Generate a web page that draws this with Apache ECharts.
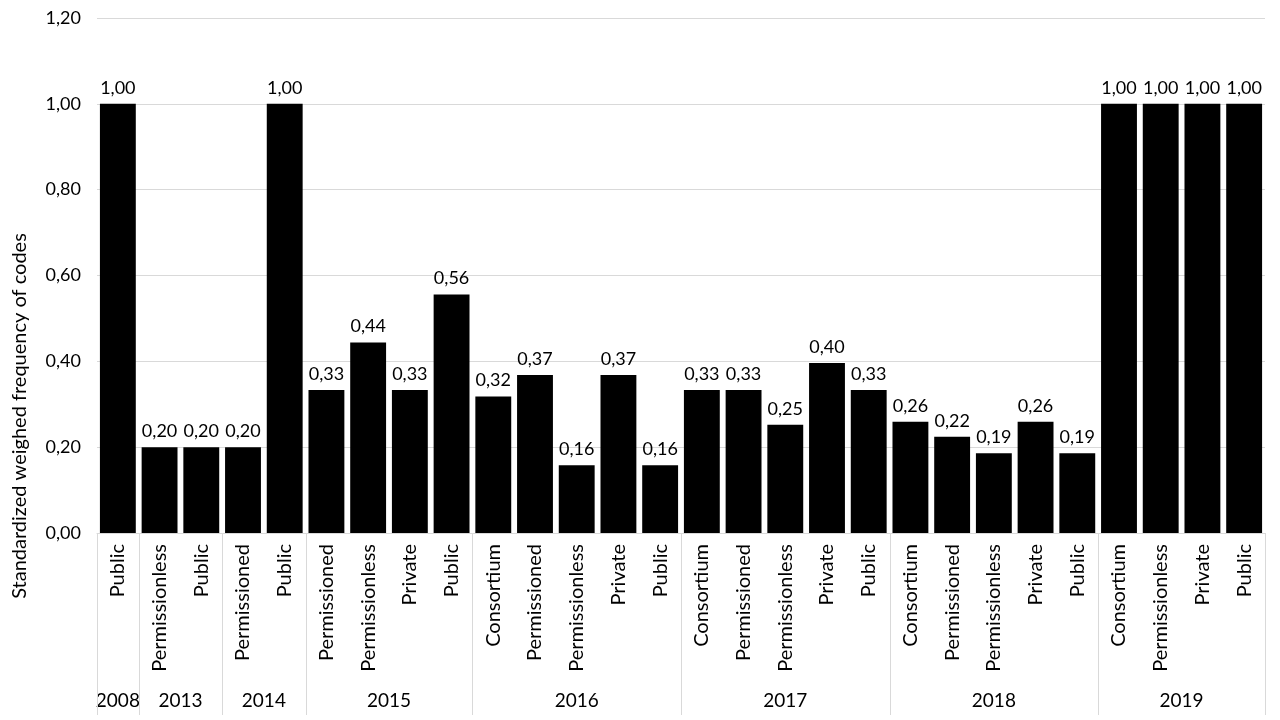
<!DOCTYPE html>
<html>
<head>
<meta charset="utf-8">
<script src="https://cdn.jsdelivr.net/npm/echarts@6/dist/echarts.min.js"></script>
<style>html,body{margin:0;padding:0;background:#fff}#c{width:1280px;height:720px}</style>
</head>
<body>
<div id="c"></div>
<script>
const categories = [
  'Public',
  'Permissionless','Public',
  'Permissioned','Public',
  'Permissioned','Permissionless','Private','Public',
  'Consortium','Permissioned','Permissionless','Private','Public',
  'Consortium','Permissioned','Permissionless','Private','Public',
  'Consortium','Permissioned','Permissionless','Private','Public',
  'Consortium','Permissionless','Private','Public'
];
const years = ['2008','2013','2014','2015','2016','2017','2018','2019'];
const yearCounts = [1,2,2,4,5,5,5,4];
const values = [
  1.00,
  0.20,0.20,
  0.20,1.00,
  0.333,0.444,0.333,0.556,
  0.318,0.368,0.158,0.368,0.158,
  0.333,0.333,0.252,0.396,0.333,
  0.259,0.224,0.186,0.259,0.186,
  1.00,1.00,1.00,1.00
];
const yTitle = 'Standardized weighed frequency of codes';

const FONT = 'Lato';
const fmt = v => v.toFixed(2).replace('.', ',');
const chart = echarts.init(document.getElementById('c'));
chart.setOption({
  animation: false,
  textStyle: {fontFamily: FONT},
  grid: {left: 97, right: 15, top: 18, bottom: 187},
  xAxis: {
    type: 'category',
    data: categories,
    axisLine: {show: true, lineStyle: {color: '#d9d9d9', width: 1}},
    axisTick: {show: false},
    axisLabel: {rotate: 90, interval: 0, margin: 11, fontSize: 20, color: '#000', fontFamily: FONT}
  },
  yAxis: {
    type: 'value', min: 0, max: 1.2, interval: 0.2,
    axisLine: {show: false}, axisTick: {show: false},
    splitLine: {lineStyle: {color: '#d9d9d9', width: 1}},
    axisLabel: {formatter: v => fmt(v), fontSize: 18, color: '#000', margin: 16, fontFamily: FONT}
  },
  series: [{
    type: 'bar',
    data: values,
    barCategoryGap: '14%',
    itemStyle: {color: '#000'},
    label: {show: true, position: 'top', distance: 7, formatter: p => fmt(p.value), fontSize: 18, color: '#000', fontFamily: FONT}
  }]
});

function drawGroups() {
  const x0 = chart.convertToPixel({xAxisIndex: 0}, 0);
  const x1 = chart.convertToPixel({xAxisIndex: 0}, 1);
  const half = (x1 - x0) / 2;
  const yBase = chart.convertToPixel({yAxisIndex: 0}, 0);
  const elements = [];
  let idx = 0;
  const bounds = [];
  yearCounts.forEach((cnt, g) => {
    const left = chart.convertToPixel({xAxisIndex: 0}, idx) - half;
    const right = chart.convertToPixel({xAxisIndex: 0}, idx + cnt - 1) + half;
    bounds.push(left);
    if (g === yearCounts.length - 1) bounds.push(right);
    elements.push({
      type: 'text', x: (left + right) / 2, y: 701,
      style: {text: years[g], fontSize: 19, fill: '#000', fontFamily: FONT, align: 'center', verticalAlign: 'middle'}
    });
    idx += cnt;
  });
  bounds.forEach(b => {
    elements.push({type: 'line', shape: {x1: Math.round(b) + 0.5, y1: yBase, x2: Math.round(b) + 0.5, y2: 715}, style: {stroke: '#d9d9d9', lineWidth: 1}});
  });
  elements.push({
    type: 'text', x: 20, y: 416, rotation: Math.PI / 2,
    style: {text: yTitle, fontSize: 20, fill: '#000', fontFamily: FONT, align: 'center', verticalAlign: 'middle'}
  });
  chart.setOption({graphic: elements});
}
drawGroups();
</script>
</body>
</html>
